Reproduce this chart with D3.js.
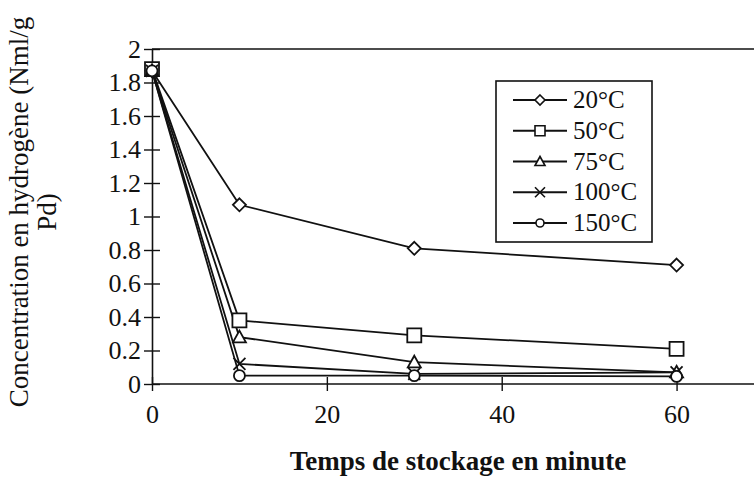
<!DOCTYPE html>
<html>
<head>
<meta charset="utf-8">
<script src="https://cdn.jsdelivr.net/npm/d3@7"></script>
<style>
  body { margin: 0; background: #fff; }
  text { font-family: "Liberation Serif", "Times New Roman", serif; fill: #111; }
</style>
</head>
<body>
<div id="chart"></div>
<script>
// data
var minutes = [0, 10, 30, 60];
var seriesNames = ["20°C", "50°C", "75°C", "100°C", "150°C"];
var c20 = [1.87, 1.07, 0.81, 0.71];
var c50 = [1.88, 0.38, 0.29, 0.21];
var c75 = [1.87, 0.28, 0.13, 0.07];
var c100 = [1.87, 0.12, 0.06, 0.07];
var c150 = [1.87, 0.05, 0.05, 0.045];
var yTicks = [0, 0.2, 0.4, 0.6, 0.8, 1, 1.2, 1.4, 1.6, 1.8, 2];
var xTicks = [0, 20, 40, 60];

var allSeries = [c20, c50, c75, c100, c150];

// custom marker shapes (size = half width)
var diamond = { draw: function(p, r){ p.moveTo(0, -r); p.lineTo(r, 0); p.lineTo(0, r); p.lineTo(-r, 0); p.closePath(); } };
var square = { draw: function(p, r){ p.rect(-r, -r, 2 * r, 2 * r); } };
var triangle = { draw: function(p, r){ p.moveTo(0, -r); p.lineTo(r, r * 0.8); p.lineTo(-r, r * 0.8); p.closePath(); } };
var cross = { draw: function(p, r){ p.moveTo(-r, -r); p.lineTo(r, r); p.moveTo(r, -r); p.lineTo(-r, r); } };
var circle = { draw: function(p, r){ p.moveTo(r, 0); p.arc(0, 0, r, 0, 2 * Math.PI); } };
var shapes = [diamond, square, triangle, cross, circle];
var dataSizes = [6.5, 7, 6.5, 6, 5.5];
var legendSizes = [5, 5, 5, 5, 4];

var width = 754, height = 487;
var serif = "'Liberation Serif', 'Times New Roman', serif";
var svg = d3.select("#chart").append("svg")
    .attr("width", width)
    .attr("height", height);

var x = d3.scaleLinear().domain([0, 70]).range([152, 764]);
var y = d3.scaleLinear().domain([0, 2]).range([384, 49]);

// frame top line
svg.append("line")
    .attr("x1", x(0)).attr("x2", width)
    .attr("y1", y(2)).attr("y2", y(2))
    .attr("stroke", "#111").attr("stroke-width", 1.6);

// axes
var yAxis = d3.axisLeft(y).tickValues(yTicks).tickSizeInner(8).tickSizeOuter(0).tickPadding(3)
    .tickFormat(function(d){ return d === 0 || d === 1 || d === 2 ? d3.format("d")(d) : d3.format(".1f")(d); });
var gY = svg.append("g").attr("transform", "translate(" + x(0) + ",0)").call(yAxis);

var xAxis = d3.axisBottom(x).tickValues(xTicks).tickSizeInner(7).tickSizeOuter(0).tickPadding(14);
var gX = svg.append("g").attr("transform", "translate(0," + y(0) + ")").call(xAxis);

[gX, gY].forEach(function(g){
    g.attr("font-family", serif).attr("font-size", 26);
    g.select(".domain").attr("stroke", "#111").attr("stroke-width", 1.6);
    g.selectAll(".tick line").attr("stroke", "#111").attr("stroke-width", 1.4);
    g.selectAll(".tick text").attr("fill", "#111");
});
// ticks cross the axes
gY.selectAll(".tick line").attr("x1", 8);
gX.selectAll(".tick line").attr("y1", -7);
gX.select(".domain").attr("d", "M" + x(0) + ",0H" + width);

// lines and markers
var line = d3.line()
    .x(function(d, i){ return x(minutes[i]); })
    .y(function(d){ return y(d); });

allSeries.forEach(function(s, k){
    svg.append("path")
        .attr("d", line(s))
        .attr("fill", "none")
        .attr("stroke", "#111")
        .attr("stroke-width", 1.8);
});
allSeries.forEach(function(s, k){
    svg.selectAll(".m" + k)
        .data(s)
        .enter().append("path")
        .attr("class", "m" + k)
        .attr("transform", function(d, i){ return "translate(" + x(minutes[i]) + "," + y(d) + ")"; })
        .attr("d", d3.symbol().type(shapes[k]).size(dataSizes[k]))
        .attr("fill", k === 3 ? "none" : "#fff")
        .attr("stroke", "#111")
        .attr("stroke-width", 1.8);
});

// legend
var legend = svg.append("g");
legend.append("rect")
    .attr("x", 496).attr("y", 81)
    .attr("width", 156).attr("height", 161)
    .attr("fill", "#fff")
    .attr("stroke", "#111").attr("stroke-width", 1.6);

var rowY = d3.scalePoint().domain(seriesNames).range([100, 223]);
seriesNames.forEach(function(name, k){
    var ly = rowY(name);
    legend.append("line")
        .attr("x1", 513).attr("x2", 567)
        .attr("y1", ly).attr("y2", ly)
        .attr("stroke", "#111").attr("stroke-width", 1.8);
    legend.append("path")
        .attr("transform", "translate(540," + ly + ")")
        .attr("d", d3.symbol().type(shapes[k]).size(legendSizes[k]))
        .attr("fill", k === 3 ? "none" : "#fff")
        .attr("stroke", "#111").attr("stroke-width", 1.6);
    legend.append("text")
        .attr("x", 573).attr("y", ly + 8)
        .attr("font-size", 25)
        .text(name);
});

// axis titles
svg.append("text")
    .attr("x", 458).attr("y", 470)
    .attr("text-anchor", "middle")
    .attr("font-size", 27)
    .attr("font-weight", "bold")
    .text("Temps de stockage en minute");

var yTitle = svg.append("text")
    .attr("transform", "translate(28,212) rotate(-90)")
    .attr("text-anchor", "middle")
    .attr("font-size", 27);
yTitle.append("tspan").attr("x", 0).attr("y", 0).text("Concentration  en  hydrogène  (Nml/g");
yTitle.append("tspan").attr("x", 0).attr("y", 28).text("Pd)");
</script>
</body>
</html>
